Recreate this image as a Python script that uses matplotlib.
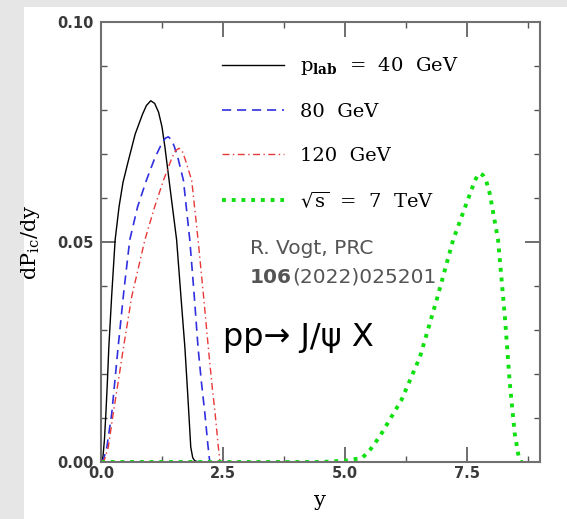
import matplotlib
matplotlib.use("Agg")
import matplotlib.pyplot as plt
from matplotlib.patches import Rectangle
from matplotlib.ticker import MultipleLocator

# dP_ic/dy vs rapidity y
x_40 = [0.0, 0.04, 0.07, 0.10, 0.13, 0.16, 0.22, 0.29, 0.37, 0.45, 0.55, 0.70, 0.85,
        0.93, 1.02, 1.10, 1.18, 1.25, 1.31, 1.43, 1.55, 1.65, 1.72, 1.78, 1.84, 1.88,
        1.92, 2.0, 9.0]
y_40 = [0.0, 0.0012, 0.005, 0.011, 0.018, 0.026, 0.038, 0.0505, 0.058, 0.0635, 0.068,
        0.0745, 0.079, 0.081, 0.0821, 0.0815, 0.0795, 0.0762, 0.0716, 0.061, 0.0505,
        0.036, 0.026, 0.015, 0.0034, 0.001, 0.0003, 0.0, 0.0]

x_80 = [0.0, 0.05, 0.12, 0.22, 0.35, 0.47, 0.59, 0.75, 0.93, 1.10, 1.25, 1.32, 1.38,
        1.44, 1.50, 1.58, 1.69, 1.82, 1.91, 1.99, 2.06, 2.13, 2.19, 2.23, 9.0]
y_80 = [0.0, 0.0005, 0.0034, 0.011, 0.026, 0.039, 0.0505, 0.058, 0.064, 0.069, 0.0725,
        0.0736, 0.0739, 0.0733, 0.0718, 0.069, 0.064, 0.0505, 0.038, 0.026, 0.018, 0.011,
        0.004, 0.0, 0.0]

x_120 = [0.0, 0.07, 0.15, 0.25, 0.35, 0.46, 0.63, 0.90, 1.10, 1.28, 1.45, 1.53, 1.60,
         1.66, 1.72, 1.86, 1.99, 2.10, 2.20, 2.28, 2.34, 2.40, 2.44, 9.0]
y_120 = [0.0, 0.0005, 0.0034, 0.011, 0.018, 0.026, 0.0376, 0.0505, 0.058, 0.064, 0.069,
         0.0708, 0.0713, 0.0708, 0.069, 0.064, 0.0505, 0.038, 0.026, 0.017, 0.011, 0.004,
         0.0, 0.0]

x_7tev = [0.0, 4.5, 5.0, 5.35, 5.5, 5.72, 6.16, 6.54, 6.88, 7.22, 7.5, 7.65, 7.72, 7.77,
          7.83, 7.90, 7.97, 8.14, 8.28, 8.38, 8.48, 8.55, 8.59, 8.65]
y_7tev = [0.0, 0.0, 0.0003, 0.0009, 0.0025, 0.0059, 0.0141, 0.0239, 0.0368, 0.0505, 0.059,
          0.0635, 0.0652, 0.0656, 0.0652, 0.0638, 0.061, 0.0505, 0.033, 0.018, 0.0066,
          0.002, 0.0, 0.0]

labels = [r"$\mathrm{p}_{\mathbf{lab}}$  =  40  GeV", "80  GeV", "120  GeV",
          r"$\sqrt{\mathrm{s}}$  =  7  TeV"]

plt.rcParams["mathtext.fontset"] = "dejavuserif"

fig = plt.figure(figsize=(5.67, 5.19), dpi=100, facecolor="#e7e6e6")
fig.patches.append(Rectangle((24 / 567, 0), 1, 1 - 6.5 / 519, transform=fig.transFigure,
                             facecolor="white", edgecolor="none", zorder=-10))
ax = fig.add_axes([101 / 567, 1 - 462 / 519, 439 / 567, 440 / 519])

ax.plot(x_40, y_40, color="black", lw=1.0, label=labels[0])
ax.plot(x_80, y_80, color="#3030e0", lw=1.2, ls=(0, (5.5, 3.5)), label=labels[1])
ax.plot(x_120, y_120, color="#e83838", lw=1.0, ls=(0, (5, 2.5, 1, 2.5)), label=labels[2])
ax.plot(x_7tev, y_7tev, color="#10e010", lw=2.8, ls=(0, (1, 1.5)), label=labels[3])

ax.set_xlim(0, 9.0)
ax.set_ylim(0, 0.10)
ax.xaxis.set_major_locator(MultipleLocator(2.5))
ax.xaxis.set_minor_locator(MultipleLocator(1.25))
ax.yaxis.set_major_locator(MultipleLocator(0.05))
ax.yaxis.set_minor_locator(MultipleLocator(0.01))
ax.xaxis.set_major_formatter(lambda v, p: f"{v:.1f}")
ax.yaxis.set_major_formatter(lambda v, p: f"{v:.2f}")
ax.tick_params(which="both", direction="in", top=True, right=True, color="#555555")
ax.tick_params(which="major", length=11, width=1.2, pad=3)
ax.tick_params(axis="y", which="major", pad=5)
ax.tick_params(which="minor", length=4.5, width=1.0)
for t in ax.get_xticklabels() + ax.get_yticklabels():
    t.set_fontweight("bold")
    t.set_color("#3a3a3a")
    t.set_fontsize(10.5)
for s in ax.spines.values():
    s.set_color("#707070")
    s.set_linewidth(1.5)

ax.set_xlabel("y", family="DejaVu Serif", fontsize=15, labelpad=7)
ax.set_ylabel(r"$\mathrm{dP_{ic}/dy}$", fontsize=15, labelpad=11)

ax.legend(loc="upper left", bbox_to_anchor=(0.275, 0.924), frameon=False,
          prop={"family": "DejaVu Serif", "size": 14}, handlelength=3.2,
          handletextpad=0.8, labelspacing=1.32, borderpad=0, borderaxespad=0)

ax.text(3.05, 0.0486, "R. Vogt, PRC", fontsize=14.5, color="#555555", va="center")
t1 = ax.text(3.05, 0.0420, "106", fontsize=14.5, color="#555555", va="center",
             fontweight="bold")
ax.annotate("(2022)025201", xy=(1, 0.5), xycoords=t1, va="center", ha="left",
            fontsize=14.5, color="#555555")
ax.text(2.5, 0.0282, "pp\u2192 J/\u03c8 X", fontsize=23, color="black", va="center")

fig.savefig("out.png", dpi=100)
